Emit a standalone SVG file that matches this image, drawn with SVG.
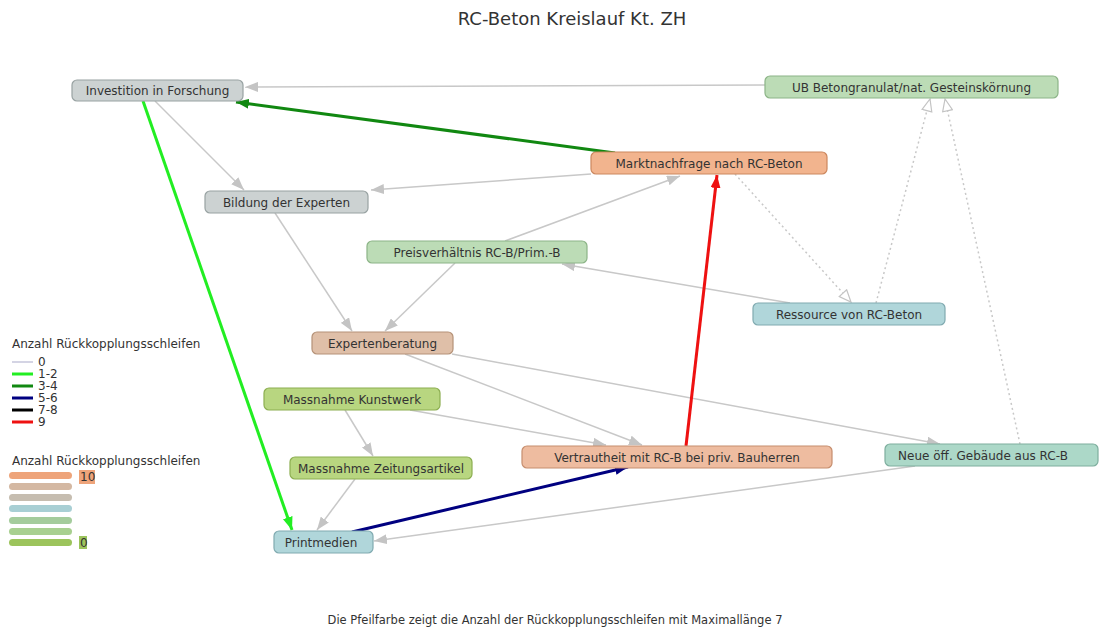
<svg xmlns="http://www.w3.org/2000/svg" width="1099" height="629" viewBox="0 0 1099 629">
<defs>
<style>
text{font-family:"DejaVu Sans","Liberation Sans",sans-serif;fill:#333}
.n text{font-size:12px;text-anchor:middle}
.n rect{stroke-width:1.2}
.gray{fill:#ccd2d2;stroke:#98a2a2}
.green{fill:#bcdcb6;stroke:#8cb487}
.orange{fill:#f2b48e;stroke:#cc875e}
.blue{fill:#b0d6da;stroke:#80aab0}
.tan{fill:#dfbfa8;stroke:#b59278}
.lime{fill:#b8d680;stroke:#8cae50}
.peach{fill:#eebca0;stroke:#c68e6e}
.teal{fill:#acd8c8;stroke:#7eae9e}
.e{fill:none;stroke:#c8c8c8;stroke-width:1.5}
.d{fill:none;stroke:#c8c8c8;stroke-width:1.5;stroke-dasharray:2 3}
.lg{font-size:12px}
</style>
<marker id="ag" markerWidth="14" markerHeight="10" refX="13" refY="5" orient="auto" markerUnits="userSpaceOnUse"><path d="M0,0 L13,5 L0,10 z" fill="#c4c4c4"/></marker>
<marker id="ao" markerWidth="15" markerHeight="12" refX="13" refY="6" orient="auto" markerUnits="userSpaceOnUse"><path d="M1,1 L13,6 L1,11 z" fill="#fff" stroke="#c4c4c4" stroke-width="1.2"/></marker>
<marker id="alg" markerWidth="14" markerHeight="10" refX="13" refY="5" orient="auto" markerUnits="userSpaceOnUse"><path d="M0,0 L13,5 L0,10 z" fill="#22ee22"/></marker>
<marker id="adg" markerWidth="14" markerHeight="10" refX="13" refY="5" orient="auto" markerUnits="userSpaceOnUse"><path d="M0,0 L13,5 L0,10 z" fill="#118811"/></marker>
<marker id="ar" markerWidth="14" markerHeight="10" refX="13" refY="5" orient="auto" markerUnits="userSpaceOnUse"><path d="M0,0 L13,5 L0,10 z" fill="#ee1111"/></marker>
<marker id="an" markerWidth="14" markerHeight="10" refX="13" refY="5" orient="auto" markerUnits="userSpaceOnUse"><path d="M0,0 L13,5 L0,10 z" fill="#000080"/></marker>
</defs>
<rect width="1099" height="629" fill="#fff"/>
<text x="572" y="25" style="font-size:18px;text-anchor:middle">RC-Beton Kreislauf Kt. ZH</text>

<g id="connectors">
<line class="e" x1="765" y1="85" x2="245" y2="87" marker-end="url(#ag)"/>
<line class="e" x1="155" y1="101" x2="244" y2="190" marker-end="url(#ag)"/>
<line class="e" x1="591" y1="174" x2="371" y2="190" marker-end="url(#ag)"/>
<line class="e" x1="505" y1="241" x2="680" y2="176" marker-end="url(#ag)"/>
<line class="e" x1="275" y1="213" x2="352" y2="331" marker-end="url(#ag)"/>
<line class="e" x1="455" y1="263" x2="385" y2="331" marker-end="url(#ag)"/>
<line class="e" x1="790" y1="303" x2="562" y2="264" marker-end="url(#ag)"/>
<line class="e" x1="405" y1="354" x2="642" y2="445" marker-end="url(#ag)"/>
<line class="e" x1="410" y1="410" x2="606" y2="445" marker-end="url(#ag)"/>
<line class="e" x1="452" y1="354" x2="940" y2="444" marker-end="url(#ag)"/>
<line class="e" x1="345" y1="410" x2="373" y2="456" marker-end="url(#ag)"/>
<line class="e" x1="355" y1="479" x2="317" y2="530" marker-end="url(#ag)"/>
<line class="e" x1="915" y1="466" x2="374" y2="541" marker-end="url(#ag)"/>
<line class="d" x1="735" y1="174" x2="851" y2="302" marker-end="url(#ao)"/>
<line class="d" x1="876" y1="303" x2="930" y2="99" marker-end="url(#ao)"/>
<line class="d" x1="1020" y1="444" x2="945" y2="99" marker-end="url(#ao)"/>
<line x1="143" y1="101" x2="292" y2="530" stroke="#22ee22" stroke-width="3" marker-end="url(#alg)"/>
<line x1="615" y1="153" x2="236" y2="102" stroke="#118811" stroke-width="3" marker-end="url(#adg)"/>
<line x1="686" y1="446" x2="717" y2="175" stroke="#ee1111" stroke-width="3" marker-end="url(#ar)"/>
<line x1="352" y1="532" x2="628" y2="467" stroke="#000080" stroke-width="3" marker-end="url(#an)"/>
</g>

<g class="n">
<g id="n-investition"><rect class="gray" x="72" y="80" width="171" height="21" rx="5"/><text x="157.5" y="95">Investition in Forschung</text></g>
<g id="n-ub"><rect class="green" x="765" y="76" width="293" height="22" rx="5"/><text x="911.5" y="91.5">UB Betongranulat/nat. Gesteinskörnung</text></g>
<g id="n-markt"><rect class="orange" x="591" y="152" width="236" height="22" rx="5"/><text x="709" y="167.5">Marktnachfrage nach RC-Beton</text></g>
<g id="n-bildung"><rect class="gray" x="205" y="191" width="163" height="22" rx="5"/><text x="286.5" y="206.5">Bildung der Experten</text></g>
<g id="n-preis"><rect class="green" x="367" y="241" width="220" height="22" rx="5"/><text x="477" y="256.5">Preisverhältnis RC-B/Prim.-B</text></g>
<g id="n-ressource"><rect class="blue" x="753" y="303" width="192" height="22" rx="5"/><text x="849" y="318.5">Ressource von RC-Beton</text></g>
<g id="n-expertenberatung"><rect class="tan" x="312" y="332" width="141" height="22" rx="5"/><text x="382.5" y="347.5">Expertenberatung</text></g>
<g id="n-kunstwerk"><rect class="lime" x="264" y="388" width="176" height="22" rx="5"/><text x="352" y="403.5">Massnahme Kunstwerk</text></g>
<g id="n-zeitung"><rect class="lime" x="290" y="457" width="182" height="22" rx="5"/><text x="381" y="472.5">Massnahme Zeitungsartikel</text></g>
<g id="n-vertrautheit"><rect class="peach" x="522" y="446" width="310" height="22" rx="5"/><text x="677" y="461.5">Vertrautheit mit RC-B bei priv. Bauherren</text></g>
<g id="n-neue"><rect class="teal" x="885" y="444" width="213" height="22" rx="5"/><text x="983" y="459.5">Neue öff. Gebäude aus RC-B</text></g>
<g id="n-printmedien"><rect class="blue" x="274" y="531" width="99" height="22" rx="5"/><text x="321" y="546.5">Printmedien</text></g>
</g>

<g id="legend-edges" class="lg">
<text x="12" y="348">Anzahl Rückkopplungsschleifen</text>
<line x1="12" y1="362" x2="33" y2="362" stroke="#d4d4e4" stroke-width="2"/><text x="38" y="366">0</text>
<line x1="12" y1="374" x2="33" y2="374" stroke="#22ee22" stroke-width="3"/><text x="38" y="378">1-2</text>
<line x1="12" y1="386" x2="33" y2="386" stroke="#118811" stroke-width="3"/><text x="38" y="390">3-4</text>
<line x1="12" y1="398" x2="33" y2="398" stroke="#000080" stroke-width="3"/><text x="38" y="402">5-6</text>
<line x1="12" y1="410" x2="33" y2="410" stroke="#000000" stroke-width="3"/><text x="38" y="414">7-8</text>
<line x1="12" y1="422" x2="33" y2="422" stroke="#ee1111" stroke-width="3"/><text x="38" y="426">9</text>
</g>
<g id="legend-nodes" class="lg">
<text x="12" y="465">Anzahl Rückkopplungsschleifen</text>
<rect x="9" y="472" width="63" height="7" rx="3.5" fill="#eea47a"/>
<rect x="9" y="483" width="63" height="7" rx="3.5" fill="#d4b8a2"/>
<rect x="9" y="494" width="63" height="7" rx="3.5" fill="#c6bdb0"/>
<rect x="9" y="505" width="63" height="7" rx="3.5" fill="#a8cfd4"/>
<rect x="9" y="517" width="63" height="7" rx="3.5" fill="#a4cc9c"/>
<rect x="9" y="528" width="63" height="7" rx="3.5" fill="#a8d090"/>
<rect x="9" y="539" width="63" height="7" rx="3.5" fill="#9cc45c"/>
<rect x="79" y="470" width="16" height="14" fill="#eea47a"/><text x="80" y="481">10</text>
<rect x="79" y="536" width="8" height="13" fill="#9cc45c"/><text x="80" y="547">0</text>
</g>

<text x="555" y="624" style="font-size:11.5px;text-anchor:middle">Die Pfeilfarbe zeigt die Anzahl der Rückkopplungsschleifen mit Maximallänge 7</text>
</svg>
